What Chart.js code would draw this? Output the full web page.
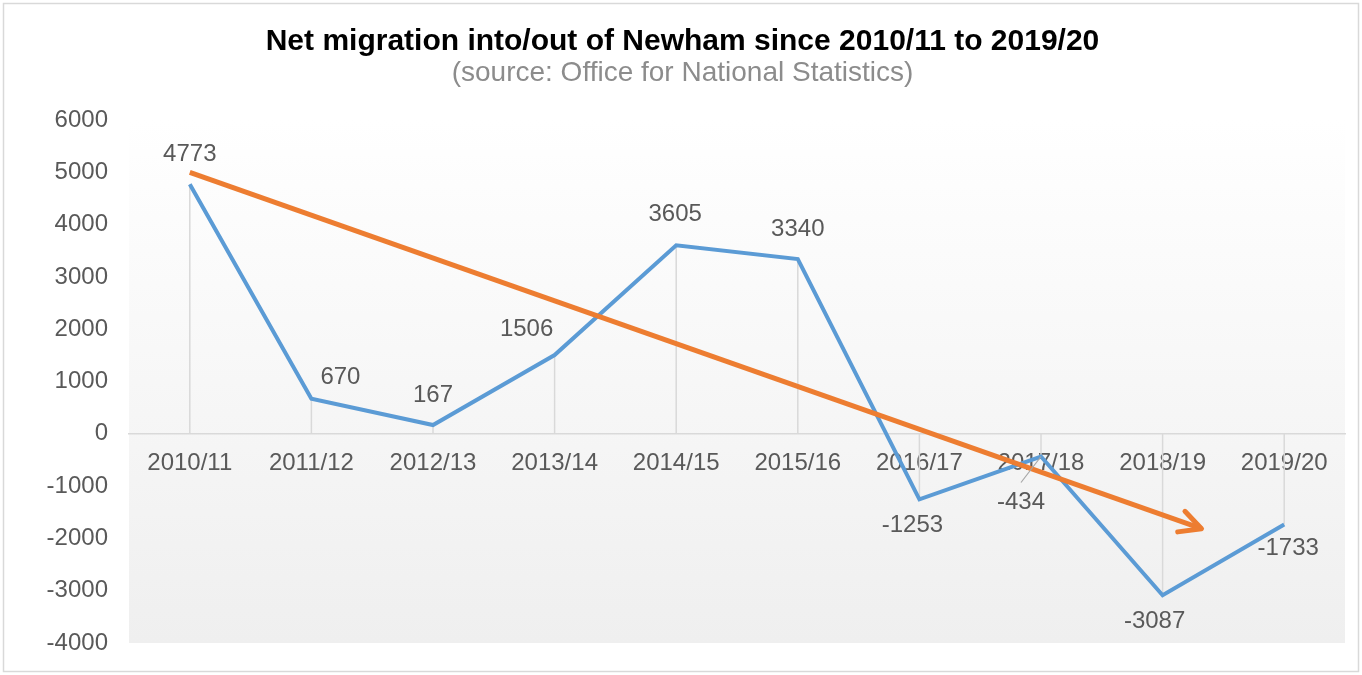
<!DOCTYPE html>
<html>
<head>
<meta charset="utf-8">
<title>Net migration into/out of Newham</title>
<script src="https://cdn.jsdelivr.net/npm/chart.js@4.4.1/dist/chart.umd.min.js"></script>
<style>
  html, body { margin: 0; padding: 0; background: #fff; }
  canvas { display: block; }
</style>
</head>
<body>
<canvas id="migrationChart" width="1362" height="675"></canvas>
<script>
const years = ['2010/11', '2011/12', '2012/13', '2013/14', '2014/15', '2015/16', '2016/17', '2017/18', '2018/19', '2019/20'];
const netMigration = [4773, 670, 167, 1506, 3605, 3340, -1253, -434, -3087, -1733];
const yTickValues = [-4000, -3000, -2000, -1000, 0, 1000, 2000, 3000, 4000, 5000, 6000];

// hand-drawn trend arrow, x in category index units
const trendX = [0, 8.32];
const trendY = [5000, -1815];

// where each value label sits relative to its point (dx, dy in px)
const labelOffsets = [[0, -31], [29, -22], [0, -31], [-28, -27], [-1, -32], [0, -31], [-7, 25], [-20, 45], [-8, 25], [4, 23]];
const leaderLabels = [7];

const FONT = "'Liberation Sans', Arial, sans-serif";
const GREY_TEXT = '#595959';

// page frame + plot area shading
const backdrop = {
  id: 'backdrop',
  beforeDraw(chart) {
    const { ctx, chartArea, width, height } = chart;
    ctx.save();
    ctx.fillStyle = '#fff';
    ctx.fillRect(0, 0, width, height);
    const grad = ctx.createLinearGradient(0, chartArea.top, 0, chartArea.bottom);
    grad.addColorStop(0, '#ffffff');
    grad.addColorStop(1, '#efefef');
    ctx.fillStyle = grad;
    ctx.fillRect(chartArea.left, chartArea.top, chartArea.right - chartArea.left, chartArea.bottom - chartArea.top);
    ctx.strokeStyle = '#d9d9d9';
    ctx.lineWidth = 1.5;
    ctx.strokeRect(3.5, 3.5, width - 7, height - 7);
    ctx.restore();
  }
};

// vertical drop lines from each point to zero
const dropLines = {
  id: 'dropLines',
  beforeDatasetsDraw(chart) {
    const { ctx, scales: { y } } = chart;
    const zero = y.getPixelForValue(0);
    const meta = chart.getDatasetMeta(0);
    ctx.save();
    ctx.strokeStyle = '#d9d9d9';
    ctx.lineWidth = 1.5;
    meta.data.forEach((pt) => {
      ctx.beginPath();
      ctx.moveTo(pt.x, pt.y);
      ctx.lineTo(pt.x, zero);
      ctx.stroke();
    });
    ctx.restore();
  }
};

// arrow head on the end of the trend line, then the value labels
const annotations = {
  id: 'annotations',
  afterDatasetsDraw(chart) {
    const { ctx } = chart;
    const trend = chart.getDatasetMeta(1).data;
    const a = trend[0], b = trend[trend.length - 1];
    const ang = Math.atan2(b.y - a.y, b.x - a.x) + Math.PI;
    const len = 24, spread = 27 * Math.PI / 180;
    ctx.save();
    ctx.strokeStyle = '#ed7d31';
    ctx.lineWidth = 5;
    ctx.lineCap = 'round';
    ctx.lineJoin = 'round';
    ctx.beginPath();
    ctx.moveTo(b.x + len * Math.cos(ang + spread), b.y + len * Math.sin(ang + spread));
    ctx.lineTo(b.x, b.y);
    ctx.lineTo(b.x + len * Math.cos(ang - spread), b.y + len * Math.sin(ang - spread));
    ctx.stroke();

    const meta = chart.getDatasetMeta(0);
    ctx.font = '24px ' + FONT;
    ctx.fillStyle = GREY_TEXT;
    ctx.textAlign = 'center';
    ctx.textBaseline = 'middle';
    meta.data.forEach((pt, i) => {
      const lx = pt.x + labelOffsets[i][0];
      const ly = pt.y + labelOffsets[i][1];
      if (leaderLabels.includes(i)) {
        ctx.strokeStyle = '#a6a6a6';
        ctx.lineWidth = 1.2;
        ctx.lineCap = 'butt';
        ctx.beginPath();
        ctx.moveTo(lx, ly - 19);
        ctx.lineTo(pt.x, pt.y);
        ctx.stroke();
      }
      ctx.fillText(String(netMigration[i]), lx, ly + 1);
    });
    ctx.restore();
  }
};

const ctx = document.getElementById('migrationChart').getContext('2d');
new Chart(ctx, {
  type: 'line',
  data: {
    labels: years,
    datasets: [
      {
        label: 'Net migration',
        data: netMigration,
        borderColor: '#5b9bd5',
        borderWidth: 4,
        pointRadius: 0,
        tension: 0,
        order: 2
      },
      {
        label: 'Trend',
        data: trendX.map((x, i) => ({ x, y: trendY[i] })),
        xAxisID: 'x2',
        borderColor: '#ed7d31',
        borderWidth: 5,
        pointRadius: 0,
        tension: 0,
        order: 1
      }
    ]
  },
  options: {
    responsive: false,
    animation: false,
    layout: { padding: { left: 20, right: 17, top: 0, bottom: 32 } },
    plugins: {
      legend: { display: false },
      tooltip: { enabled: false },
      title: {
        display: true,
        text: 'Net migration into/out of Newham since 2010/11 to 2019/20',
        color: '#000',
        font: { family: FONT, size: 30, weight: 'bold', lineHeight: 1 },
        padding: { top: 27, bottom: 0 }
      },
      subtitle: {
        display: true,
        text: '(source: Office for National Statistics)',
        color: '#8c8c8c',
        font: { family: FONT, size: 28, lineHeight: 1 },
        padding: { top: 2, bottom: 33 }
      }
    },
    scales: {
      x: {
        position: { y: 0 },
        offset: true,
        grid: { display: false, drawTicks: false },
        border: { display: true, color: '#d9d9d9', width: 1.5 },
        ticks: {
          color: GREY_TEXT,
          font: { family: FONT, size: 24 },
          padding: 15,
          maxRotation: 0,
          autoSkip: false
        }
      },
      x2: {
        type: 'linear',
        display: false,
        min: -0.5,
        max: years.length - 0.5
      },
      y: {
        min: yTickValues[0],
        max: yTickValues[yTickValues.length - 1],
        grid: { display: false, drawTicks: false },
        border: { display: false },
        afterFit(scale) {
          scale.width = 109;
          scale.paddingTop = 0;
          scale.paddingBottom = 0;
        },
        afterBuildTicks(scale) { scale.ticks = yTickValues.map((v) => ({ value: v })); },
        ticks: {
          color: GREY_TEXT,
          font: { family: FONT, size: 24 },
          padding: 21,
          callback: (v) => String(v)
        }
      }
    }
  },
  plugins: [backdrop, dropLines, annotations]
});
</script>
</body>
</html>
